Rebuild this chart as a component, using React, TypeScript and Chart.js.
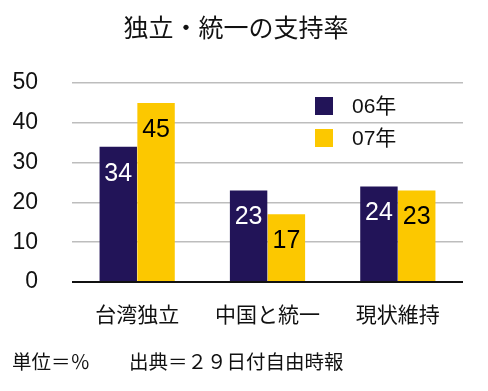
import React, { useEffect, useRef } from "react";
import { Chart, registerables } from "chart.js";

Chart.register(...registerables);

const categories = ["台湾独立", "中国と統一", "現状維持"];
const seriesNames = ["06年", "07年"];
const values06 = [34, 23, 24];
const values07 = [45, 17, 23];
const yTicks = [0, 10, 20, 30, 40, 50];
const titleText = "独立・統一の支持率";
const footerText = "単位＝％　　出典＝２９日付自由時報";

const NAVY = "#221458";
const YELLOW = "#fcc800";
const LATIN = "'Liberation Sans', 'Noto Sans CJK JP', sans-serif";
const CJK = "'Noto Sans CJK JP', 'Liberation Sans', sans-serif";

const overlayPlugin = {
  id: "overlay",
  afterDatasetsDraw(chart: any) {
    const ctx = chart.ctx;
    ctx.save();
    // data labels
    chart.data.datasets.forEach((ds: any, di: number) => {
      const meta = chart.getDatasetMeta(di);
      meta.data.forEach((bar: any, i: number) => {
        ctx.font = `25px ${LATIN}`;
        ctx.fillStyle = di === 0 ? "#ffffff" : "#000000";
        ctx.textAlign = "center";
        ctx.textBaseline = "middle";
        ctx.fillText(String(ds.data[i]), bar.x, bar.y + 27);
      });
    });
    // legend
    const area = chart.chartArea;
    const lx = area.left + 243;
    const colors = [NAVY, YELLOW];
    seriesNames.forEach((name, i) => {
      const cy = area.top + 23 + i * 32;
      ctx.fillStyle = colors[i];
      ctx.fillRect(lx, cy - 9, 18, 18);
      ctx.fillStyle = "#111";
      ctx.font = `21px ${LATIN}`;
      ctx.textAlign = "left";
      ctx.textBaseline = "middle";
      ctx.fillText(name, lx + 37, cy + 1);
    });
    // title
    ctx.fillStyle = "#111";
    ctx.font = `25px ${CJK}`;
    ctx.textAlign = "center";
    ctx.textBaseline = "middle";
    ctx.fillText(titleText, 236, 27);
    // footer
    ctx.font = `19.5px ${CJK}`;
    ctx.textAlign = "left";
    ctx.fillText(footerText, 12, 362);
    ctx.restore();
  },
};

export default function App() {
  const ref = useRef<HTMLCanvasElement>(null);
  useEffect(() => {
    if (!ref.current) return;
    const chart = new Chart(ref.current, {
      type: "bar",
      data: {
        labels: categories,
        datasets: [
          { label: seriesNames[0], data: values06, backgroundColor: NAVY, barPercentage: 0.99, categoryPercentage: 0.58 },
          { label: seriesNames[1], data: values07, backgroundColor: YELLOW, barPercentage: 0.99, categoryPercentage: 0.58 },
        ],
      },
      options: {
        responsive: false,
        animation: false,
        layout: { padding: { top: 83, right: 25, left: 0, bottom: 0 } },
        plugins: {
          legend: { display: false },
          title: { display: false },
          tooltip: { enabled: false },
        },
        scales: {
          x: {
            grid: { display: false, drawTicks: false },
            border: { display: false },
            ticks: { color: "#111", font: { size: 21, family: CJK }, padding: 19 },
            afterFit: (s: any) => { s.height = 109; },
          },
          y: {
            min: 0,
            max: 50,
            afterBuildTicks: (s: any) => { s.ticks = yTicks.map((v) => ({ value: v })); },
            grid: {
              drawTicks: false,
              color: (c: any) => (c.tick && c.tick.value === 0 ? "#111" : "#bdbdbd"),
              lineWidth: (c: any) => (c.tick && c.tick.value === 0 ? 2 : 1.5),
            },
            border: { display: false },
            ticks: { color: "#111", font: { size: 23, family: LATIN }, padding: 34 },
            afterFit: (s: any) => { s.width = 72; },
          },
        },
      },
      plugins: [overlayPlugin],
    });
    return () => chart.destroy();
  }, []);
  return (
    <div style={{ position: "absolute", left: 0, top: 0, width: 488, height: 391, background: "#fff" }}>
      <canvas ref={ref} width={488} height={391} />
    </div>
  );
}
